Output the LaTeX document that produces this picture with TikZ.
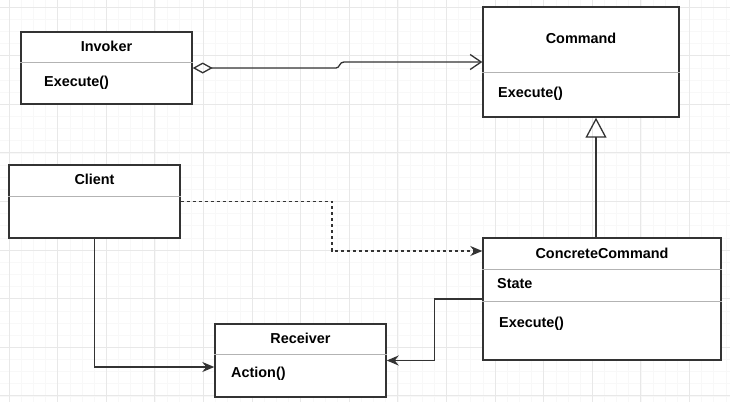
\documentclass[tikz,border=0pt]{standalone}
\usepackage{xcolor}
\usepackage{fontspec}
\setmainfont{Liberation Sans}
\usepackage{tikz}
\usetikzlibrary{positioning, arrows.meta}

\definecolor{boxline}{HTML}{333333}
\definecolor{sepline}{HTML}{B3B3B3}
\definecolor{gridmajor}{HTML}{E8E8E8}
\definecolor{gridminor}{HTML}{F8F8F8}

\begin{document}
\begin{tikzpicture}[x=1pt, y=-1pt, >=Stealth,
    classbox/.style={draw=boxline, line width=1.4pt, fill=white, inner sep=0pt},
    divider/.style={draw=sepline, line width=1pt},
    title/.style={font=\bfseries\fontsize{14.4}{17}\selectfont, inner sep=0pt},
    member/.style={font=\bfseries\fontsize{14.4}{17}\selectfont, inner sep=0pt, anchor=west},
    conn/.style={draw=boxline, line width=1.3pt},
    aggr/.style={conn, {Diamond[open, length=20pt, width=11pt]}-{Straight Barb[length=11pt, width=15pt]}},
    dep/.style={conn, dashed, dash pattern=on 3pt off 3pt, -{Stealth[length=12pt, width=10pt]}},
    assoc/.style={conn, -{Stealth[length=12pt, width=10pt]}},
    gen/.style={conn, -{Triangle[open, length=20pt, width=21pt]}}]
    \useasboundingbox[fill=white] (0,0) rectangle (730,402);

    % grid
    \foreach \i in {0,...,59}
        \draw[gridminor, line width=0.5pt] (9+12.15*\i,0) -- (9+12.15*\i,402);
    \foreach \j in {0,...,33}
        \draw[gridminor, line width=0.5pt] (0,7+12.15*\j) -- (730,7+12.15*\j);
    \foreach \i in {0,...,14}
        \draw[gridmajor, line width=0.8pt] (9+48.6*\i,0) -- (9+48.6*\i,402);
    \foreach \j in {0,...,8}
        \draw[gridmajor, line width=0.8pt] (0,7+48.6*\j) -- (730,7+48.6*\j);

    % classes
    \node[classbox, minimum width=171pt, minimum height=72pt] (inv) at (106.5,68) {};
    \node[classbox, minimum width=196pt, minimum height=110pt] (cmd) at (581,62) {};
    \node[classbox, minimum width=171pt, minimum height=73pt] (cli) at (94.5,201.5) {};
    \node[classbox, minimum width=238pt, minimum height=122pt] (cc) at (602,299) {};
    \node[classbox, minimum width=171pt, minimum height=73pt] (rcv) at (300.5,360.5) {};

    \draw[divider] (inv.west |- 0,62) -- (inv.east |- 0,62);
    \draw[divider] (cmd.west |- 0,72) -- (cmd.east |- 0,72);
    \draw[divider] (cli.west |- 0,196) -- (cli.east |- 0,196);
    \draw[divider] (cc.west |- 0,269) -- (cc.east |- 0,269);
    \draw[divider] (cc.west |- 0,301) -- (cc.east |- 0,301);
    \draw[divider] (rcv.west |- 0,354) -- (rcv.east |- 0,354);

    \node[title] (inv-t) at (inv.center |- 0,46) {Invoker};
    \node[member] (inv-m) at (44,83) {Execute()};
    \node[title] (cmd-t) at (cmd.center |- 0,38) {Command};
    \node[member] (cmd-m) at (498,94) {Execute()};
    \node[title] (cli-t) at (cli.center |- 0,179) {Client};
    \node[title] (cc-t) at (cc.center |- 0,253) {ConcreteCommand};
    \node[member] (cc-a) at (497,284) {State};
    \node[member] (cc-m) at (499,324) {Execute()};
    \node[title] (rcv-t) at (rcv.center |- 0,338) {Receiver};
    \node[member] (rcv-m) at (231,374) {Action()};

    % relations
    \draw[aggr] (inv.east) -- (336,68) .. controls (340,68) and (339,62) .. (344,62) -- (cmd.west);
    \draw[gen] ([xshift=-6pt]cc.north) -- ([xshift=-6pt]cc.north |- cmd.south);
    \draw[dep] (cli.east) -- (332,201.5) |- (cc.west |- 0,251);
    \draw[assoc] (cli.south) |- (rcv.west |- 0,367);
    \draw[assoc] (cc.west) -- ++(-48pt,0) |- (rcv.east);
\end{tikzpicture}
\end{document}
